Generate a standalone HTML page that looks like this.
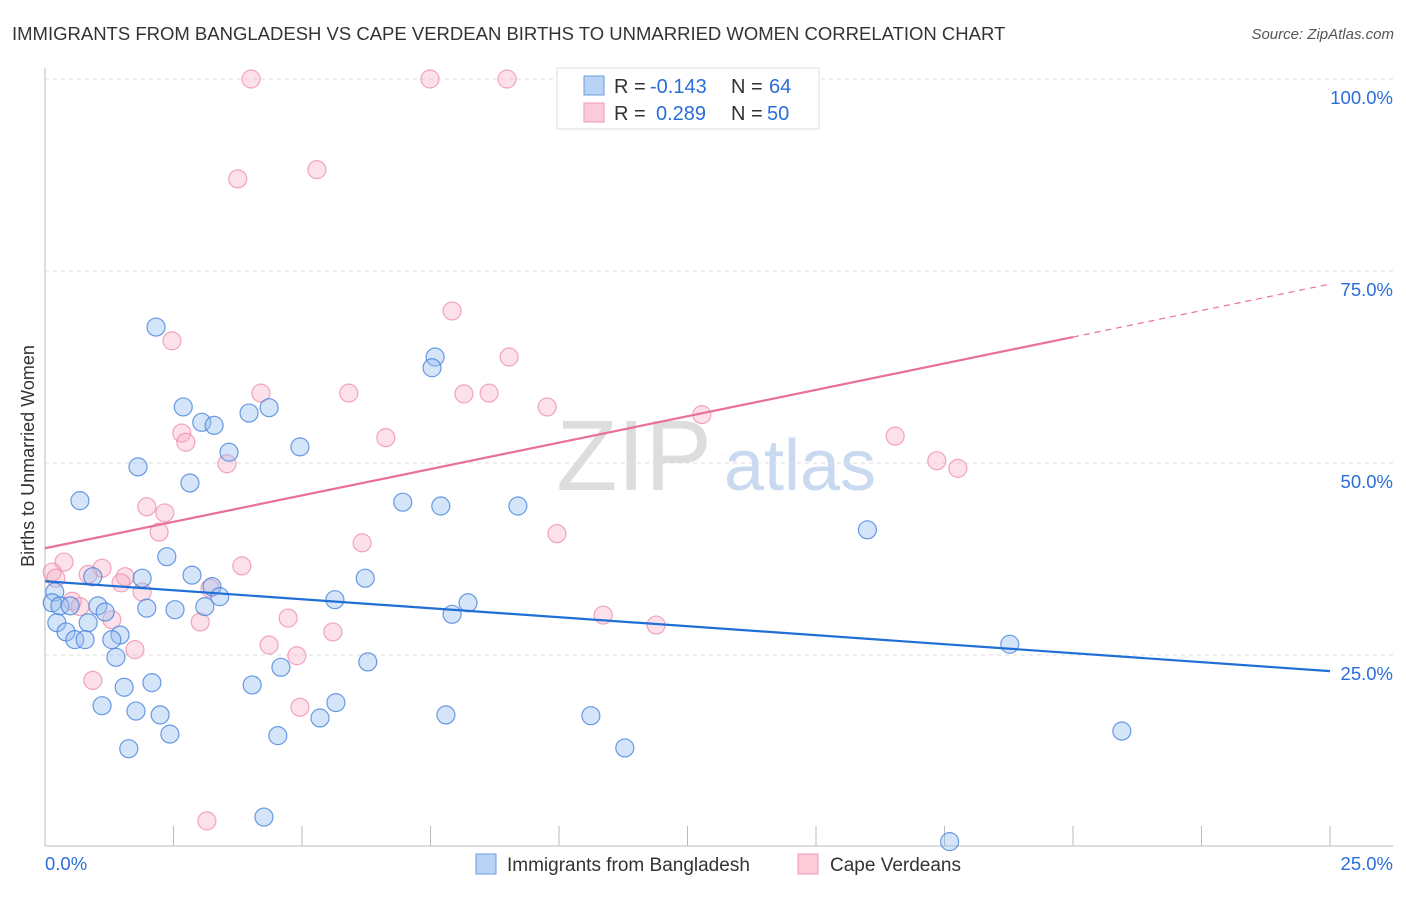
<!DOCTYPE html>
<html><head><meta charset="utf-8"><style>
body{margin:0;background:#fff;font-family:"Liberation Sans",sans-serif}
svg text{font-family:"Liberation Sans",sans-serif}
</style></head><body>
<svg id="chart" width="1406" height="892">
<text x="12" y="40" font-size="18.5" fill="#333">IMMIGRANTS FROM BANGLADESH VS CAPE VERDEAN BIRTHS TO UNMARRIED WOMEN CORRELATION CHART</text>
<text x="1394" y="39" font-size="15" fill="#555" font-style="italic" text-anchor="end">Source: ZipAtlas.com</text>
<text x="634" y="490" font-size="100" fill="#ddd" font-family="Liberation Serif" text-anchor="middle">ZIP</text>
<text x="800" y="490" font-size="72" fill="#c9daf0" text-anchor="middle">atlas</text>
<text transform="translate(34,456) rotate(-90)" font-size="18" fill="#333" text-anchor="middle">Births to Unmarried Women</text>
<g id="grid"></g><g id="pts"></g><g id="lines"></g>
<g>
<rect x="557" y="68" width="262" height="61" fill="#fff" stroke="#ddd"/>
<rect x="584" y="76" width="20" height="19" fill="#b9d3f5" stroke="#6a9ee0"/>
<rect x="584" y="103" width="20" height="19" fill="#fbcbd9" stroke="#ee9ab4"/>
<text x="614" y="93" font-size="20" fill="#333">R =</text>
<text x="650" y="93" font-size="20" fill="#2a6ed8">-0.143</text>
<text x="731" y="93" font-size="20" fill="#333">N =</text>
<text x="769" y="93" font-size="20" fill="#2a6ed8">64</text>
<text x="614" y="120" font-size="20" fill="#333">R =</text>
<text x="656" y="120" font-size="20" fill="#2a6ed8">0.289</text>
<text x="731" y="120" font-size="20" fill="#333">N =</text>
<text x="767" y="120" font-size="20" fill="#2a6ed8">50</text>
</g>
<g>
<rect x="476" y="854" width="20" height="20" fill="#b9d3f5" stroke="#6a9ee0"/>
<text x="507" y="871" font-size="19" fill="#333">Immigrants from Bangladesh</text>
<rect x="798" y="854" width="20" height="20" fill="#fbcbd9" stroke="#ee9ab4"/>
<text x="830" y="871" font-size="19" fill="#333">Cape Verdeans</text>
</g>
</svg>
<script>
const xTicks=[0,2.5,5,7.5,10,12.5,15,17.5,20,22.5,25];
const yTicks=[25,50,75,100];
const blueX=[2.16,2.69,3.05,3.29,3.97,4.36,3.58,1.81,2.82,4.96,7.59,7.53,0.68,6.96,7.70,9.20,16.0,2.37,2.86,1.89,0.93,6.23,3.25,3.40,0.19,0.14,0.29,0.49,1.03,1.17,1.98,2.53,3.11,5.64,8.23,7.92,0.23,0.84,0.41,1.46,0.58,0.78,1.30,1.38,4.59,6.28,18.77,1.54,2.08,4.03,1.11,1.77,2.24,5.66,5.35,7.80,10.62,20.95,2.43,4.53,1.63,11.28,4.26,17.6];
const blueY=[67.7,57.3,55.3,54.9,56.5,57.2,51.4,49.5,47.4,52.1,63.8,62.4,45.1,44.9,44.4,44.4,41.3,37.8,35.4,35.0,35.2,35.0,33.9,32.6,33.2,31.8,31.4,31.4,31.4,30.6,31.1,30.9,31.3,32.2,31.8,30.3,29.2,29.2,28.0,27.6,27.0,27.0,27.0,24.7,23.4,24.1,26.4,20.8,21.4,21.1,18.4,17.7,17.2,18.8,16.8,17.2,17.1,15.1,14.7,14.5,12.8,12.9,3.9,0.7];
const pinkX=[4.01,7.49,8.99,3.75,5.29,7.92,2.47,9.03,4.20,5.91,8.15,8.64,9.77,12.78,2.66,2.74,6.63,16.54,3.54,17.35,17.76,1.98,2.33,2.22,9.96,6.17,0.37,3.83,0.14,0.21,1.11,0.84,1.56,1.48,3.21,1.89,0.53,0.68,1.30,3.02,4.73,10.86,11.89,5.60,1.75,4.36,4.90,0.93,4.96,3.15];
const pinkY=[100,100,100,87.0,88.2,69.8,65.9,63.8,59.1,59.1,59.0,59.1,57.3,56.3,53.9,52.7,53.3,53.5,49.9,50.3,49.3,44.3,43.5,41.0,40.8,39.6,37.1,36.6,35.8,35.0,36.3,35.5,35.2,34.4,33.7,33.2,32.0,31.3,29.6,29.3,29.8,30.2,28.9,28.0,25.7,26.3,24.9,21.7,18.2,3.4];
const blueLine=[34.6,22.9];
const pinkLine=[38.9,66.4,73.3];
const NS='http://www.w3.org/2000/svg';
const sx=v=>45+v/25*1285, sy=v=>847-v/100*768;
function mk(t,a,p){const e=document.createElementNS(NS,t);for(const k in a)e.setAttribute(k,a[k]);document.getElementById(p).appendChild(e);return e;}
const ax=mk('line',{x1:45,y1:68,x2:45,y2:846,stroke:'#bbb'},'grid');


const xl=mk('line',{x1:45,y1:846,x2:1393,y2:846,stroke:'#bbb'},'grid');


yTicks.forEach(v=>{
 const g=mk('line',{x1:45,y1:sy(v),x2:1393,y2:sy(v),stroke:'#ddd','stroke-dasharray':'4,4'},'grid');
 
 
 const t=mk('text',{x:1393,y:sy(v)+25,'font-size':18.5,fill:'#2a6ed8','text-anchor':'end'},'grid');
 t.textContent=v.toFixed(1)+'%';
 
 
});
xTicks.slice(1).forEach(v=>{
 const l=mk('line',{x1:sx(v),y1:826,x2:sx(v),y2:846,stroke:'#bbb'},'grid');
 
 
});
[[0,'start',45],[25,'end',1393]].forEach(([v,a,x])=>{
 const t=mk('text',{x:x,y:870,'font-size':18.5,fill:'#2a6ed8','text-anchor':a},'grid');
 t.textContent=v.toFixed(1)+'%';
 
 
});
pinkX.forEach((x,i)=>{
 const c=mk('circle',{cx:sx(x),cy:sy(pinkY[i]),r:9,fill:'rgba(246,170,195,0.35)',stroke:'rgba(236,130,165,0.7)','stroke-width':1.2},'pts');
 
 
});
blueX.forEach((x,i)=>{
 const c=mk('circle',{cx:sx(x),cy:sy(blueY[i]),r:9,fill:'rgba(150,190,240,0.4)',stroke:'rgba(70,130,220,0.8)','stroke-width':1.2},'pts');
 
 
});
const bl=mk('line',{x1:sx(0),y1:sy(blueLine[0]),x2:sx(25),y2:sy(blueLine[1]),stroke:'#1f6fd6','stroke-width':2.2},'lines');


const pl=mk('line',{x1:sx(0),y1:sy(pinkLine[0]),x2:sx(20),y2:sy(pinkLine[1]),stroke:'#e8709a','stroke-width':2.2},'lines');


const pd=mk('line',{x1:sx(20),y1:sy(pinkLine[1]),x2:sx(25),y2:sy(pinkLine[2]),stroke:'#e8709a','stroke-width':1.2,'stroke-dasharray':'6,5'},'lines');


</script>
</body></html>
